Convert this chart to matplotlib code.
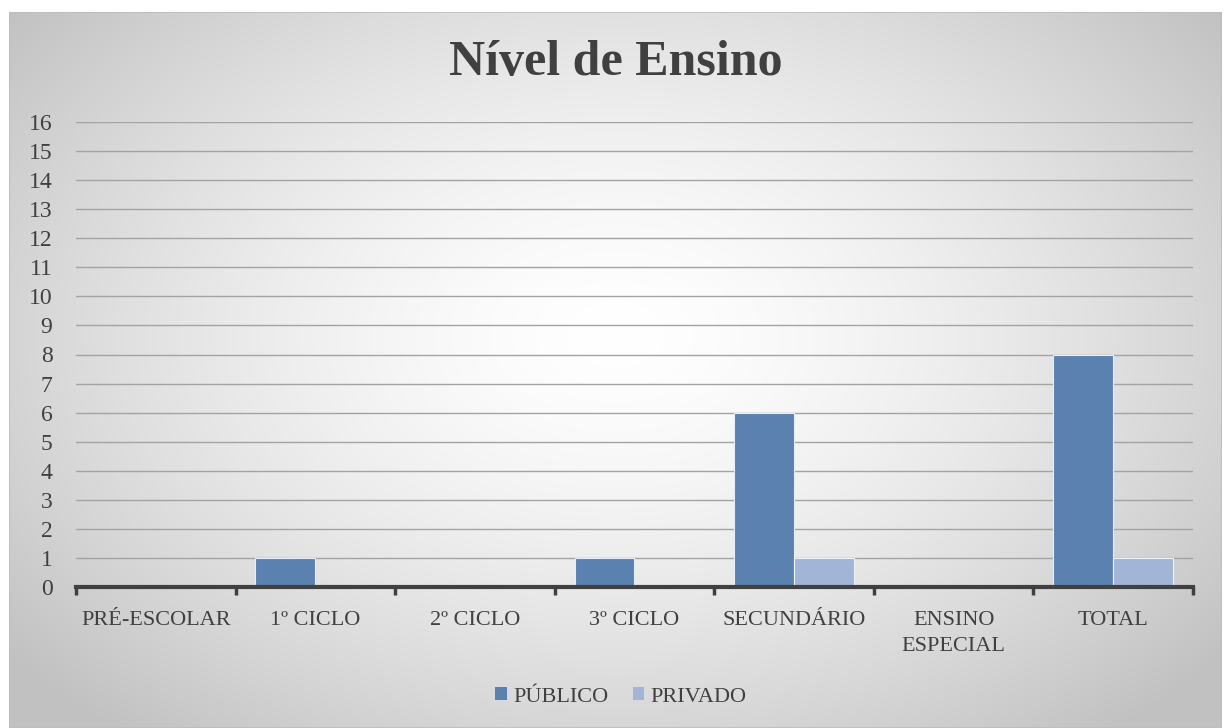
import numpy as np
import matplotlib.pyplot as plt
from matplotlib.patches import Rectangle

categorias = ['PRÉ-ESCOLAR', '1º CICLO', '2º CICLO', '3º CICLO', 'SECUNDÁRIO',
              'ENSINO\nESPECIAL', 'TOTAL']
publico = [0, 1, 0, 1, 6, 0, 8]
privado = [0, 0, 0, 0, 1, 0, 1]
series = ['PÚBLICO', 'PRIVADO']
y_ticks = list(range(0, 17))

cor_publico = '#5b81b0'
cor_privado = '#a2b5d7'
cor_texto = '#404040'
fonte = ['Liberation Serif', 'DejaVu Serif']

W, H = 1227, 728
fig = plt.figure(figsize=(W / 100, H / 100), dpi=100)
fig.patch.set_facecolor('white')

# background panel with a radial gradient, white in the middle, grey at corners
x0, y0, x1, y1 = 9 / W, 0.0, 1222 / W, 1 - 12 / H
bg = fig.add_axes([x0, y0, x1 - x0, y1 - y0], zorder=0)
gx, gy = np.meshgrid(np.linspace(0, 1, 400), np.linspace(0, 1, 240))
r = np.sqrt(((gx - 0.5) / 0.75) ** 2 + ((gy - 0.55) / 0.85) ** 2)
r = np.clip(r / 0.85, 0, 1)
shade = 1.0 - 0.24 * r ** 1.5
bg.imshow(np.dstack([shade, shade, shade]), aspect='auto', extent=[0, 1, 0, 1],
          origin='lower', interpolation='bilinear')
bg.add_patch(Rectangle((0, 0), 1, 1, transform=bg.transAxes, fill=False,
                       edgecolor='#bdbdbd', lw=1.2))
bg.set_axis_off()

ax = fig.add_axes([76 / W, 1 - 587 / H, (1193 - 76) / W, (587 - 122) / H], zorder=1)
ax.patch.set_alpha(0)

x = np.arange(len(categorias))
w = 0.376
ax.bar(x - w / 2, publico, w, color=cor_publico, edgecolor='#e8eef6', lw=0.8,
       label=series[0], zorder=3)
ax.bar(x + w / 2, privado, w, color=cor_privado, edgecolor='#eef2f8', lw=0.8,
       label=series[1], zorder=3)

ax.set_xlim(-0.5, len(categorias) - 0.5)
ax.set_ylim(0, 16)
ax.set_yticks(y_ticks)
ax.set_yticklabels([str(v) for v in y_ticks], fontsize=17, color=cor_texto,
                   family=fonte)
ax.yaxis.grid(True, color='#a3a3a3', lw=1.0, zorder=1)
ax.set_axisbelow(True)

ax.set_xticks(x)
ax.set_xticklabels(categorias, fontsize=16, color=cor_texto, family=fonte,
                   va='top', linespacing=1.5)
ax.set_xticks(np.arange(-0.5, len(categorias)), minor=True)
ax.tick_params(axis='x', which='major', length=0, pad=17)
ax.tick_params(axis='x', which='minor', length=6, width=2.5, color=cor_texto,
               direction='out')
ax.tick_params(axis='y', length=0, pad=17)

for s in ['top', 'right', 'left']:
    ax.spines[s].set_visible(False)
ax.spines['bottom'].set_color(cor_texto)
ax.spines['bottom'].set_linewidth(3)
ax.spines['bottom'].set_zorder(4)

fig.text(616 / W, 1 - 63 / H, 'Nível de Ensino', ha='center', va='center',
         fontsize=36, fontweight='bold', color=cor_texto, family=fonte, zorder=2)

leg = fig.legend(loc='center', bbox_to_anchor=(621 / W, 1 - 697 / H), ncol=2,
                 frameon=False, prop={'family': fonte, 'size': 16},
                 handlelength=0.5, handleheight=0.5, handletextpad=0.3,
                 columnspacing=1.1)
for t in leg.get_texts():
    t.set_color(cor_texto)
for h in leg.legend_handles:
    h.set_edgecolor('none')

fig.savefig('out.png', dpi=100)
